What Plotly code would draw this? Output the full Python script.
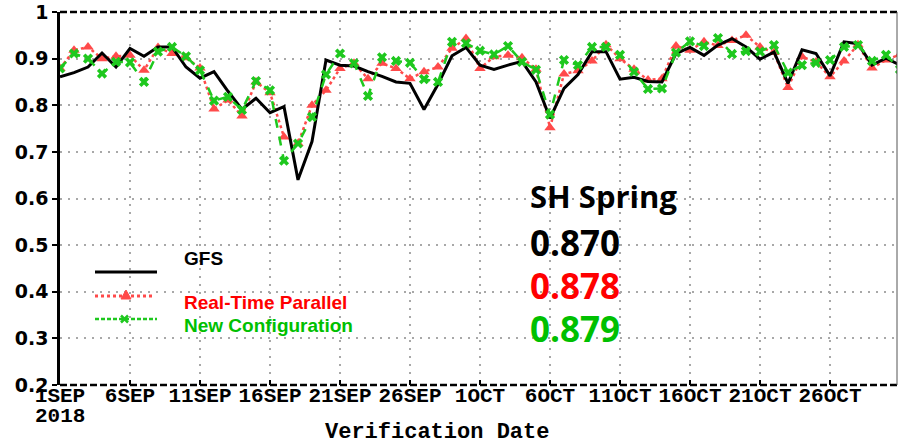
import plotly.graph_objects as go
import pandas as pd

# ---------------- data ----------------
dates = pd.date_range("2018-09-01", periods=61, freq="D")

gfs = [0.861, 0.870, 0.882, 0.912, 0.882, 0.922, 0.905, 0.925, 0.925, 0.882,
       0.858, 0.872, 0.830, 0.791, 0.815, 0.784, 0.797, 0.640, 0.722, 0.897,
       0.886, 0.884, 0.872, 0.862, 0.850, 0.847, 0.791, 0.845, 0.906, 0.924,
       0.886, 0.877, 0.886, 0.894, 0.850, 0.772, 0.836, 0.866, 0.915, 0.915,
       0.856, 0.860, 0.851, 0.850, 0.911, 0.924, 0.907, 0.929, 0.943, 0.925,
       0.899, 0.914, 0.847, 0.919, 0.911, 0.863, 0.936, 0.932, 0.886, 0.901,
       0.886]

rtp = [0.879, 0.918, 0.925, 0.900, 0.905, 0.907, 0.875, 0.924, 0.911, 0.902,
       0.880, 0.792, 0.811, 0.777, 0.850, 0.827, 0.732, 0.718, 0.800, 0.832,
       0.879, 0.890, 0.857, 0.890, 0.879, 0.857, 0.872, 0.882, 0.922, 0.943,
       0.879, 0.904, 0.907, 0.902, 0.877, 0.752, 0.867, 0.874, 0.895, 0.930,
       0.900, 0.877, 0.854, 0.857, 0.927, 0.918, 0.936, 0.928, 0.939, 0.950,
       0.925, 0.913, 0.838, 0.904, 0.893, 0.861, 0.895, 0.930, 0.880, 0.897,
       0.909]

newcfg = [0.879, 0.911, 0.900, 0.868, 0.893, 0.892, 0.850, 0.915, 0.925, 0.905,
          0.875, 0.810, 0.818, 0.790, 0.852, 0.832, 0.681, 0.718, 0.775, 0.866,
          0.911, 0.890, 0.820, 0.903, 0.895, 0.891, 0.856, 0.850, 0.936, 0.933,
          0.917, 0.909, 0.927, 0.893, 0.876, 0.780, 0.897, 0.886, 0.925, 0.925,
          0.908, 0.872, 0.835, 0.836, 0.913, 0.937, 0.927, 0.944, 0.910, 0.916,
          0.915, 0.929, 0.870, 0.886, 0.891, 0.897, 0.925, 0.929, 0.895, 0.908,
          0.877]

x_tick_dates = ["2018-09-01", "2018-09-06", "2018-09-11", "2018-09-16", "2018-09-21",
                "2018-09-26", "2018-10-01", "2018-10-06", "2018-10-11", "2018-10-16",
                "2018-10-21", "2018-10-26"]
x_tick_text = ["1SEP", "6SEP", "11SEP", "16SEP", "21SEP", "26SEP",
               "1OCT", "6OCT", "11OCT", "16OCT", "21OCT", "26OCT"]
year_label = "2018"
y_tick_vals = [0.2, 0.3, 0.4, 0.5, 0.6, 0.7, 0.8, 0.9, 1.0]
y_tick_text = ["0.2", "0.3", "0.4", "0.5", "0.6", "0.7", "0.8", "0.9", "1"]

series_names = ["GFS", "Real-Time Parallel", "New Configuration"]
season_label = "SH Spring"
season_means = ["0.870", "0.878", "0.879"]

# ---------------- styling ----------------
W, H = 898, 444
L, R, T, B = 60, 1, 12, 59
PW, PH = W - L - R, H - T - B
PLOT_LEFT, PLOT_BOTTOM = L, H - B   # pixels

BLACK = "#000000"
RED = "#ff4a4a"
GREEN = "#1ec81e"
TXT_RED = "#ff0000"
TXT_GREEN = "#00c000"
MONO = "Liberation Mono, Courier New, monospace"


def px(xp):
    return (xp - PLOT_LEFT) / PW


def py(yp):
    return (PLOT_BOTTOM - yp) / PH


fig = go.Figure()

fig.add_trace(go.Scatter(x=dates, y=rtp, mode="lines+markers", name=series_names[1],
                         line=dict(color=RED, width=2.5, dash="dot"),
                         marker=dict(symbol="triangle-up", size=10, color=RED),
                         showlegend=False))
fig.add_trace(go.Scatter(x=dates, y=gfs, mode="lines", name=series_names[0],
                         line=dict(color=BLACK, width=3),
                         showlegend=False))
fig.add_trace(go.Scatter(x=dates, y=newcfg, mode="lines+markers", name=series_names[2],
                         line=dict(color=GREEN, width=2.5, dash="dash"),
                         marker=dict(symbol="x", size=9, color=GREEN),
                         showlegend=False))

x_end = pd.Timestamp("2018-09-01") + pd.Timedelta(days=PW / 14.0)

fig.update_xaxes(
    range=[pd.Timestamp("2018-09-01"), x_end],
    tickvals=x_tick_dates, ticktext=x_tick_text, tickangle=0,
    tickfont=dict(family=MONO, size=21, color="black", weight="bold"),
    ticks="inside", ticklen=5, tickwidth=1.5, tickcolor="black",
    ticklabelstandoff=-5,
    showgrid=True, gridcolor="#a8a8a8", gridwidth=2, griddash="2px,6px",
    showline=False, zeroline=False, automargin=False,
)
fig.update_yaxes(
    range=[0.2, 1.0],
    tickvals=y_tick_vals, ticktext=y_tick_text,
    tickfont=dict(family="DejaVu Sans", size=19, color="black", weight="bold"),
    ticks="outside", ticklen=5, tickwidth=1.5, tickcolor="black",
    showgrid=True, gridcolor="#a8a8a8", gridwidth=2, griddash="2px,6px",
    showline=True, linecolor="black", linewidth=2.5, zeroline=False,
    automargin=False, ticklabeloverflow="allow",
)

shapes = [
    # dashed top and bottom frame
    dict(type="line", xref="paper", yref="paper", x0=0, x1=1, y0=0, y1=0,
         line=dict(color="black", width=2.5, dash="7px,3px")),
    dict(type="line", xref="paper", yref="paper", x0=0, x1=1, y0=1, y1=1,
         line=dict(color="black", width=2.5, dash="7px,3px")),
    # right frame
    dict(type="line", xref="paper", yref="paper", x0=1, x1=1, y0=0, y1=1,
         line=dict(color="#555555", width=1)),
    # legend samples
    dict(type="line", xref="paper", yref="paper", x0=px(95), x1=px(157),
         y0=py(272), y1=py(272), line=dict(color=BLACK, width=3)),
    dict(type="line", xref="paper", yref="paper", x0=px(95), x1=px(153),
         y0=py(296), y1=py(296), line=dict(color=RED, width=3, dash="dot")),
    dict(type="path", xref="paper", yref="paper",
         path=f"M {px(121)},{py(299)} L {px(131)},{py(299)} L {px(126)},{py(290)} Z",
         fillcolor=RED, line=dict(color=RED, width=1)),
    dict(type="line", xref="paper", yref="paper", x0=px(95), x1=px(157),
         y0=py(319), y1=py(319), line=dict(color=GREEN, width=2.5, dash="4px,2px")),
    dict(type="line", xref="paper", yref="paper", x0=px(121), x1=px(128),
         y0=py(315.5), y1=py(322.5), line=dict(color=GREEN, width=2.5)),
    dict(type="line", xref="paper", yref="paper", x0=px(121), x1=px(128),
         y0=py(322.5), y1=py(315.5), line=dict(color=GREEN, width=2.5)),
]
fig.update_layout(shapes=shapes)

ann = []
leg_font = "Liberation Sans, Arial, sans-serif"
for name, col, yy in [(series_names[0], BLACK, 258), (series_names[1], TXT_RED, 302),
                      (series_names[2], TXT_GREEN, 325)]:
    ann.append(dict(text=name, xref="paper", yref="paper", x=px(182), y=py(yy),
                    xanchor="left", yanchor="middle", showarrow=False,
                    font=dict(family=leg_font, size=19, color=col, weight="bold")))

big_font = "Open Sans, Noto Sans, sans-serif"
for txt, col, yy, sz in [(season_label, BLACK, 196, 31), (season_means[0], BLACK, 242, 35),
                         (season_means[1], TXT_RED, 285, 35),
                         (season_means[2], TXT_GREEN, 328, 35)]:
    ann.append(dict(text=txt, xref="paper", yref="paper", x=px(528), y=py(yy),
                    xanchor="left", yanchor="middle", showarrow=False,
                    font=dict(family=big_font, size=sz, color=col, weight="bold")))

ann.append(dict(text=year_label, xref="paper", yref="paper",
                x=px(60), y=py(416), xanchor="center", yanchor="middle",
                showarrow=False,
                font=dict(family=MONO, size=21, color="black", weight="bold")))
ann.append(dict(text="Verification Date", xref="paper", yref="paper",
                x=px(437), y=py(432), xanchor="center", yanchor="middle",
                showarrow=False,
                font=dict(family=MONO, size=22, color="black", weight="bold")))
fig.update_layout(annotations=ann)

fig.update_layout(
    width=W, height=H,
    margin=dict(l=L, r=R, t=T, b=B, pad=0, autoexpand=False),
    paper_bgcolor="white", plot_bgcolor="white",
    showlegend=False,
)

# remove the browser's default 8px body margin so the figure sits at the page origin
fig.write_html("out.html",
               config={"displayModeBar": False},
               post_script="document.body.style.margin='0';document.body.style.overflow='hidden';")
